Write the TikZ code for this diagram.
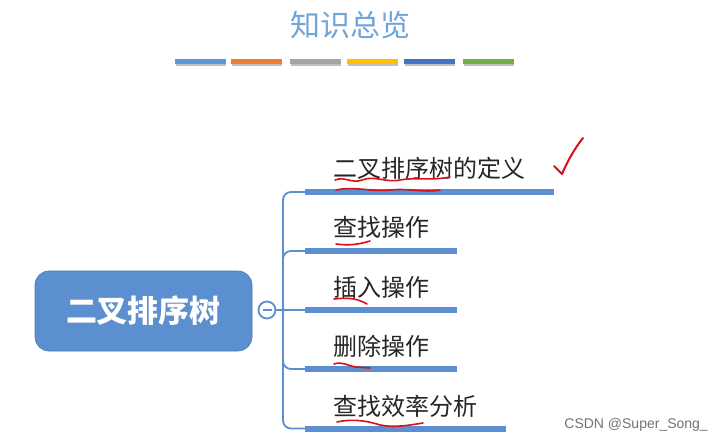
\documentclass[tikz,border=0pt]{standalone}
\usepackage{fontspec}
\newfontfamily\cjk{Noto Sans CJK SC}
\newfontfamily\wm{Liberation Sans}
\definecolor{barblue}{HTML}{5B8FD0}
\definecolor{titleblue}{HTML}{6FA5D8}
\definecolor{ink}{HTML}{262626}
\definecolor{pen}{HTML}{D8101A}
\definecolor{c1}{HTML}{5B9BD5}
\definecolor{c2}{HTML}{ED7D31}
\definecolor{c3}{HTML}{A5A5A5}
\definecolor{c4}{HTML}{FFC000}
\definecolor{c5}{HTML}{4472C4}
\definecolor{c6}{HTML}{70AD47}
\tikzset{
  bar/.style={fill=barblue, draw=none, minimum height=6pt, inner sep=0pt, anchor=west},
  conn/.style={draw=barblue, line width=1.8pt, rounded corners=8pt},
  leaf/.style={font=\cjk\fontsize{24}{24}\selectfont, text=ink, anchor=base west, inner sep=0pt},
  deco/.style={minimum height=5pt, inner sep=0pt, draw=none, anchor=west, minimum width=51pt},
  redpen/.style={draw=pen, line width=1.6pt, line cap=round, line join=round}
}
\begin{document}
\begin{tikzpicture}[x=1pt,y=-1pt]
\useasboundingbox (0,0) rectangle (724,444);
\fill[white] (0,0) rectangle (724,444);
% title
\node[font=\cjk\fontsize{30}{30}\selectfont, text=titleblue] (title) at (350,25) {知识总览};
% colour bars
\foreach \x/\c [count=\i] in {175/c1,231/c2,290/c3,347/c4,404/c5,463/c6}{
  \fill[black!25] (\x+1,63) rectangle (\x+51,66);
  \node[deco, fill=\c] (cb\i) at (\x,61.5) {};
}
% main node
\node[fill=barblue, draw=barblue!85!black, line width=0.6pt, rounded corners=14pt,
      minimum width=217pt, minimum height=80pt, text=white,
      font=\cjk\bfseries\fontsize{31}{31}\selectfont] (root) at (143.5,311) {二叉排序树};
% collapse circle
\node[circle, draw=barblue, fill=white, line width=1.8pt, minimum size=17pt, inner sep=0pt] (hub) at (267,310) {};
\draw[barblue, line width=1.6pt] (hub.center) ++(-4.5,0) -- ++(9,0);
\coordinate (trunk) at (283,310);
% bars
\node[bar, minimum width=249pt] (b1) at (305,192) {};
\node[bar, minimum width=152pt] (b2) at (305,251) {};
\node[bar, minimum width=152pt] (b3) at (305,310) {};
\node[bar, minimum width=152pt] (b4) at (305,369) {};
\node[bar, minimum width=201pt] (b5) at (305,428.5) {};
% connectors
\draw[conn] (hub.east) -- (b3.west);
\draw[conn] (trunk) |- (b1.west);
\draw[conn] (trunk) |- (b2.west);
\draw[conn] (trunk) |- (b4.west);
\draw[conn] (trunk) |- (b5.west);
% leaf texts
\node[leaf] (t1) at (333,178) {二叉排序树的定义};
\node[leaf] (t2) at (333,236) {查找操作};
\node[leaf] (t3) at (333,296) {插入操作};
\node[leaf] (t4) at (333,355) {删除操作};
\node[leaf] (t5) at (333,415) {查找效率分析};
% red handwriting
\draw[redpen] (335,180) .. controls (345,176) and (352,184) .. (362,180)
  .. controls (375,175) and (385,183) .. (400,180)
  .. controls (415,177) and (430,181) .. (450,177);
\draw[redpen] (336,190) .. controls (355,186) and (370,192) .. (390,190)
  .. controls (410,188) and (425,193) .. (440,190);
\draw[redpen] (336,244) .. controls (350,246) and (360,244) .. (370,241);
\draw[redpen] (334,299) .. controls (345,298) and (355,297) .. (367,304);
\draw[redpen] (334,364) .. controls (342,361) and (348,366) .. (356,367) -- (370,368);
\draw[redpen] (337,422) .. controls (350,419) and (365,420) .. (380,425)
  .. controls (395,428) and (410,425) .. (423,423);
\draw[redpen, line width=2pt] (554,166) -- (562,174) .. controls (568,160) and (575,148) .. (583,138);
% watermark
\node[font=\wm\fontsize{14}{14}\selectfont, text=black!55, anchor=east, inner sep=0pt] (wmk) at (708,425) {CSDN @Super\_Song\_};
\end{tikzpicture}
\end{document}
